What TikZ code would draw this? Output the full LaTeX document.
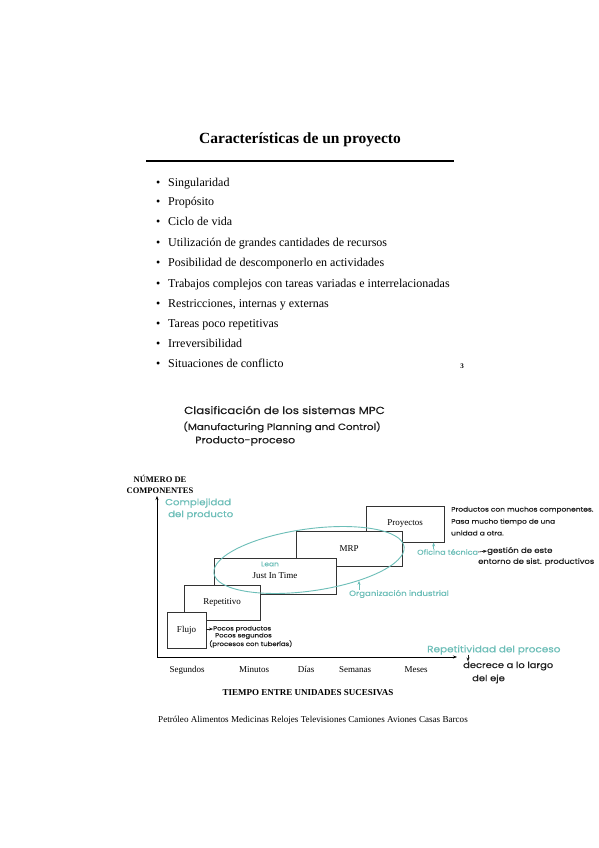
\documentclass[tikz,border=0pt]{standalone}
\usepackage{fontspec}
\setmainfont{Liberation Serif}
\newfontfamily\handfont[FakeStretch=1.15, FakeBold=0.5]{Poppins}
\usetikzlibrary{arrows.meta, positioning}
\definecolor{handteal}{RGB}{108,190,184}
\definecolor{handink}{RGB}{30,30,30}

\begin{document}
\begin{tikzpicture}[
    x=1pt, y=-1pt,
    box/.style={
        rectangle,
        draw=black!80,
        line width=0.9pt,
        fill=white,
        inner sep=0pt,
        align=center,
        font=\fontsize{9}{10}\selectfont
    },
    item/.style={
        anchor=base west,
        inner sep=0pt,
        font=\fontsize{12}{14}\selectfont,
        execute at begin node={\llap{\textbullet\hspace{8pt}}}
    },
    tick/.style={anchor=base, inner sep=0pt, font=\fontsize{9}{10}\selectfont},
    axislabel/.style={align=center, inner sep=0pt, font=\bfseries\fontsize{8.5}{11}\selectfont},
    hand/.style={anchor=west, inner sep=0pt, align=left, text=handink,
        font=\handfont\fontsize{#1}{#1}\selectfont},
    hand/.default=7.5,
    tealnote/.style={hand=#1, text=handteal},
    tealnote/.default=7.5,
    >={Stealth[length=4pt, width=3pt]}
]

\fill[white] (0,0) rectangle (599,848);
\useasboundingbox (0,0) rectangle (599,848);

% slide
\node[font=\bfseries\fontsize{15.5}{18}\selectfont] (title) at (300,140) {Características de un proyecto};
\draw[line width=1.6pt] (146,161) -- (454,161);

\node[item] (sing) at (168,186) {Singularidad};
\node[item] (prop) at (168,205) {Propósito};
\node[item] (ciclo) at (168,225) {Ciclo de vida};
\node[item] (recursos) at (168,246) {Utilización de grandes cantidades de recursos};
\node[item] (descomp) at (168,266) {Posibilidad de descomponerlo en actividades};
\node[item] (complejos) at (168,287) {Trabajos complejos con tareas variadas e interrelacionadas};
\node[item] (restric) at (168,307) {Restricciones, internas y externas};
\node[item] (tareas) at (168,327) {Tareas poco repetitivas};
\node[item] (irrev) at (168,347) {Irreversibilidad};
\node[item] (conflicto) at (168,367) {Situaciones de conflicto};
\node[font=\bfseries\fontsize{7}{8}\selectfont] (pagenum) at (462,366) {3};

% notes above the chart
\node[hand=10.3] (clasif) at (184,410) {Clasificación de los sistemas MPC};
\node[hand=9] (manuf) at (183,427) {(Manufacturing Planning and Control)};
\node[hand=9.5] (prodproc) at (195,441) {Producto-proceso};

% axes
\coordinate (origin) at (157,657);
\coordinate (ytop) at (157,496);
\coordinate (xend) at (457,657);
\draw[->, line width=0.8pt] (origin) -- (ytop);
\draw[->, line width=0.8pt] (origin) -- (xend);

\node[axislabel] (ylabel) at (160,484) {NÚMERO DE\\COMPONENTES};
\node[axislabel, font=\bfseries\fontsize{9}{11}\selectfont] (xlabel) at (308,693) {TIEMPO ENTRE UNIDADES SUCESIVAS};

\node[tick] (seg) at (187,672) {Segundos};
\node[tick] (min) at (254,672) {Minutos};
\node[tick] (dias) at (306,672) {Días};
\node[tick] (sem) at (355,672) {Semanas};
\node[tick] (meses) at (416,672) {Meses};

% boxes, back to front
\node[box, minimum width=78pt, minimum height=36pt] (proyectos) at (405,524) {Proyectos};
\node[box, minimum width=106pt, minimum height=35pt] (mrp) at (349,548.5) {MRP};
\node[box, minimum width=122pt, minimum height=36pt] (jit) at (275,576) {Just In Time};
\node[box, minimum width=76pt, minimum height=35pt] (repet) at (222,602.5) {Repetitivo};
\node[box, minimum width=39pt, minimum height=36pt] (flujo) at (186.5,630) {Flujo};

% lean ellipse
\draw[handteal, line width=0.9pt, rotate around={8:(309,560)}] (309,560) ellipse [x radius=96, y radius=31];

% annotations
\node[tealnote=8.8] (complej) at (165,503) {Complejidad};
\node[tealnote=8.8] (delprod) at (168,515) {del producto};
\node[tealnote=6.5, anchor=center] (lean) at (270,564) {Lean};

\node[hand=6.5] (muchos) at (451,510) {Productos con muchos componentes.};
\node[hand=6.5] (pasa) at (451,522) {Pasa mucho tiempo de una};
\node[hand=6.5] (otra) at (451,533) {unidad a otra.};

\node[tealnote=7] (oficina) at (417,552) {Oficina técnica};
\node[hand=7.4] (gestion) at (487,551) {gestión de este};
\node[hand=7.25] (entorno) at (478,562) {entorno de sist. productivos};
\draw[->, handteal, line width=0.6pt] ([xshift=-14]oficina.north) -- ([xshift=-14]oficina.north |- proyectos.south);
\draw[->, handink, line width=0.6pt] (oficina.east) -- (gestion.west);

\node[tealnote=7.5] (organiz) at (349,594) {Organización industrial};
\draw[->, handteal, line width=0.6pt] ([xshift=10]organiz.north west) -- ++(0,-9);

\node[hand=6] (pocos) at (213,629) {Pocos productos};
\node[hand=6] (pocoseg) at (215,636) {Pocos segundos};
\node[hand=6] (tuberias) at (209,644) {(procesos con tuberías)};
\draw[->, handink, line width=0.5pt] (flujo.east |- pocos.west) -- (pocos.west);

\node[tealnote=9.1] (repetit) at (427,650) {Repetitividad del proceso};
\node[hand=8.6] (decrece) at (463,666) {decrece a lo largo};
\node[hand=8.6] (deleje) at (472,679) {del eje};
\draw[->, handink, line width=0.6pt] ([xshift=5]repetit.south -| decrece.north west) -- ([xshift=5]decrece.north west);

% products
\node[font=\fontsize{9.1}{11}\selectfont] (productos) at (313,720) {Petróleo Alimentos Medicinas Relojes Televisiones Camiones Aviones Casas Barcos};

\end{tikzpicture}
\end{document}
